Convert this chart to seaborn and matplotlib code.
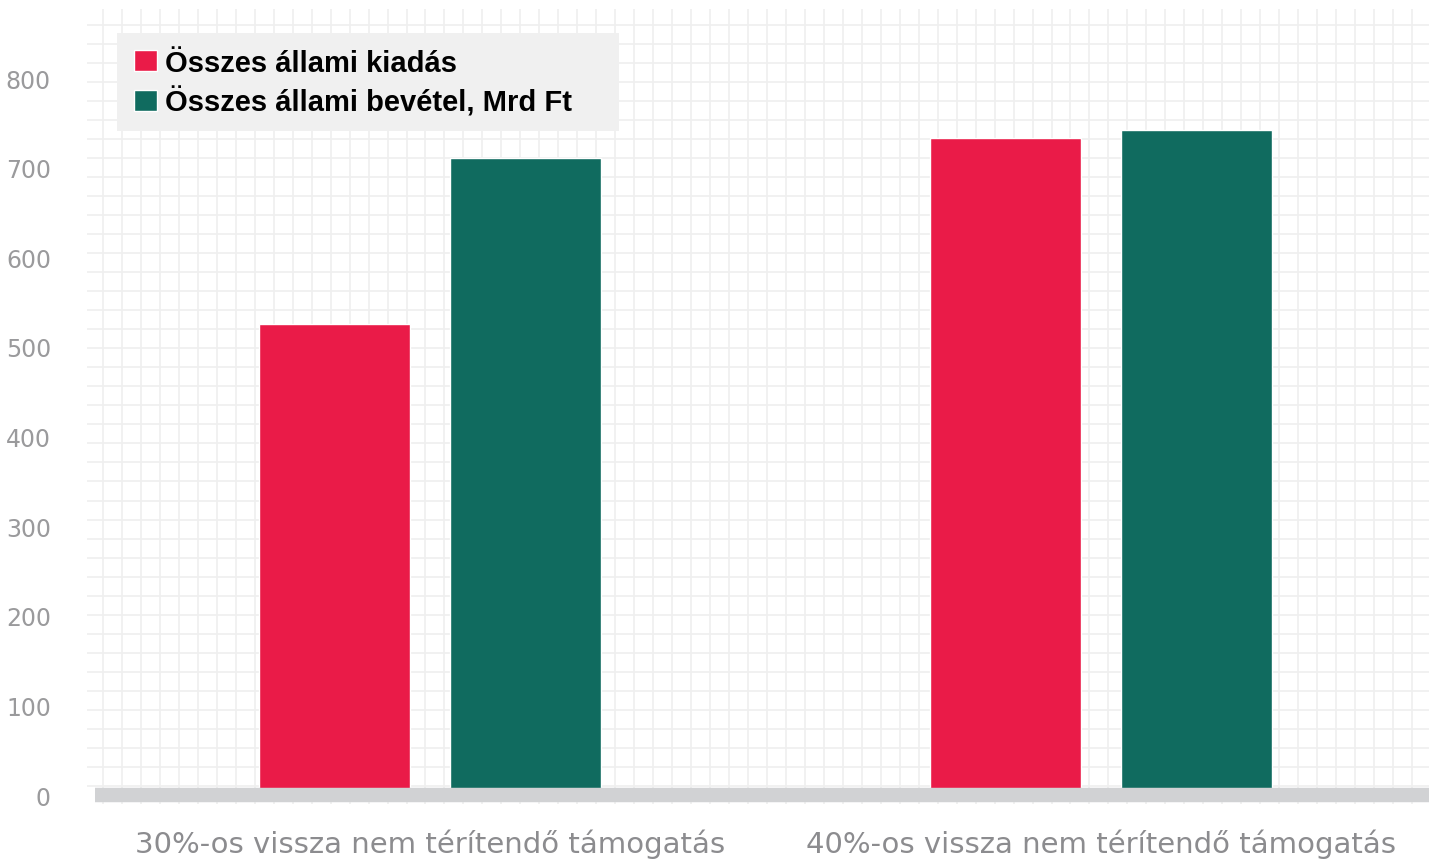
import pandas as pd
import matplotlib
matplotlib.use("Agg")
import matplotlib.pyplot as plt
from matplotlib.ticker import MultipleLocator
from matplotlib.patches import Rectangle
import seaborn as sns

# adatok (Mrd Ft)
kategoriak = ["30%-os vissza nem térítendő támogatás", "40%-os vissza nem térítendő támogatás"]
sorozatok = ["Összes állami kiadás", "Összes állami bevétel, Mrd Ft"]
kiadas = [526, 733]
bevetel = [711, 742]
y_ticks = [0, 100, 200, 300, 400, 500, 600, 700, 800]

df = pd.DataFrame({
    "kategoria": kategoriak * 2,
    "sorozat": [sorozatok[0]] * 2 + [sorozatok[1]] * 2,
    "ertek": kiadas + bevetel,
})

sns.set_style("white")
plt.rcParams["font.family"] = ["DejaVu Sans"]

W, H = 1429, 862
fig = plt.figure(figsize=(W / 100, H / 100), dpi=100)
pos = [87 / W, 1 - 805 / H, (W - 87) / W, (805 - 10) / H]

# hatter racs (negyzetes minta)
ax_bg = fig.add_axes(pos, zorder=0)
ax_bg.set_xlim(87, W)
ax_bg.set_ylim(805, 10)
ax_bg.xaxis.set_major_locator(MultipleLocator(18.97, offset=8.15))
ax_bg.yaxis.set_major_locator(MultipleLocator(19.02, offset=6.98))
ax_bg.grid(True, color="#efefef", lw=1.2)
ax_bg.tick_params(length=0, labelbottom=False, labelleft=False)
for s in ax_bg.spines.values():
    s.set_visible(False)

ax = fig.add_axes(pos, zorder=1)
ax.patch.set_alpha(0)
sns.barplot(data=df, x="kategoria", y="ertek", hue="sorozat",
            palette=["#ea1b48", "#106b5f"], width=0.569, gap=0.21,
            saturation=1, ax=ax, zorder=2)

ax.set_xlim(-0.511, 1.489)
ax.set_ylim(-10, 877)
ax.set_yticks(y_ticks)
ax.axhline(0, xmin=8 / 1342, xmax=1, color="#d1d2d4", lw=10.4,
           solid_capstyle="butt", zorder=3)
ax.set_xlabel("")
ax.set_ylabel("")
for s in ax.spines.values():
    s.set_visible(False)
ax.tick_params(axis="y", length=0, pad=26, labelsize=17, labelcolor="#9a9a9c")
ax.tick_params(axis="x", length=0, pad=18, labelsize=21, labelcolor="#8c8c8f")

# jelmagyarazat: szurke doboz + elemek
ax.add_patch(Rectangle((117 / W, 1 - 131.5 / H), (619 - 117) / W, (131.5 - 34) / H,
                       transform=fig.transFigure, facecolor="#f0f0f0",
                       edgecolor="none", zorder=4, clip_on=False))
handles, labels = ax.get_legend_handles_labels()
leg = ax.legend(handles, labels, loc="upper left",
                bbox_to_anchor=(134 / W, 1 - 50 / H), bbox_transform=fig.transFigure,
                borderaxespad=0, borderpad=0, frameon=False,
                prop={"family": "Liberation Sans", "weight": "bold", "size": 21},
                handlelength=0.78, handleheight=0.74, handletextpad=0.28,
                labelspacing=0.33)
leg.set_zorder(5)
for t in leg.get_texts():
    t.set_color("black")

fig.savefig("out.png", dpi=100)
